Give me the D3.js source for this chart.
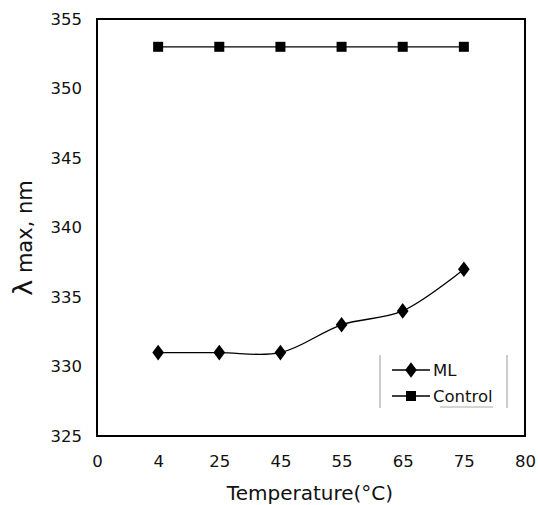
<!DOCTYPE html>
<html><head><meta charset="utf-8">
<script src="https://cdn.jsdelivr.net/npm/d3@7"></script>
<style>body{margin:0;background:#fff}svg{display:block}text{font-family:"DejaVu Sans",sans-serif;fill:#111}</style>
</head><body>
<script>
const xTickLabels = ["0","4","25","45","55","65","75","80"];
const temperatures = ["4","25","45","55","65","75"];
const mlValues = [331, 331, 331, 333, 334, 337];
const controlValues = [353, 353, 353, 353, 353, 353];
const yTicks = [325, 330, 335, 340, 345, 350, 355];

const W = 538, H = 505;
const m = {left: 97, right: 13, top: 19, bottom: 69};
const svg = d3.select("body").append("svg").attr("width", W).attr("height", H);

const x = d3.scalePoint().domain(xTickLabels).range([m.left, W - m.right]);
const y = d3.scaleLinear().domain([325, 355]).range([H - m.bottom, m.top]);

// frame
svg.append("rect").attr("x", m.left).attr("y", m.top)
  .attr("width", W - m.right - m.left).attr("height", H - m.bottom - m.top)
  .attr("fill", "none").attr("stroke", "#000").attr("stroke-width", 2);

const yAxis = svg.append("g").attr("transform", `translate(${m.left},0)`)
  .call(d3.axisLeft(y).tickValues(yTicks).tickSize(0).tickPadding(15));
yAxis.select(".domain").remove();
yAxis.selectAll("text").style("font-size", "16.5px").attr("fill", "#111");

const xAxis = svg.append("g").attr("transform", `translate(0,${H - m.bottom})`)
  .call(d3.axisBottom(x).tickSize(0).tickPadding(19));
xAxis.select(".domain").remove();
xAxis.selectAll("text").style("font-size", "16.5px").attr("fill", "#111");

svg.append("text").attr("x", 310).attr("y", 500).attr("text-anchor", "middle")
  .style("font-size", "20px").text("Temperature(°C)");
const yl = svg.append("text").attr("transform", "translate(32,238) rotate(-90)").attr("text-anchor", "middle")
  .style("font-size", "21px");
yl.append("tspan").style("font-size", "27px").text("λ");
yl.append("tspan").text(" max, nm");

// control
const lineStraight = d3.line().x((d, i) => x(temperatures[i])).y(d => y(d));
svg.append("path").datum(controlValues).attr("d", lineStraight)
  .attr("fill", "none").attr("stroke", "#000").attr("stroke-width", 1.3);
svg.selectAll(".sq").data(controlValues).join("rect")
  .attr("x", (d, i) => x(temperatures[i]) - 5).attr("y", d => y(d) - 5)
  .attr("width", 10).attr("height", 10).attr("fill", "#000");

// ML
const lineSmooth = d3.line().curve(d3.curveCatmullRom.alpha(0.5))
  .x((d, i) => x(temperatures[i])).y(d => y(d));
svg.append("path").datum(mlValues).attr("d", lineSmooth)
  .attr("fill", "none").attr("stroke", "#000").attr("stroke-width", 1.3);
const diamond = d3.symbol().type(d3.symbolDiamond).size(70);
svg.selectAll(".dm").data(mlValues).join("path")
  .attr("transform", (d, i) => `translate(${x(temperatures[i])},${y(d)}) scale(1.3,1)`)
  .attr("d", diamond).attr("fill", "#000");

// legend
const lg = svg.append("g");
lg.append("line").attr("x1", 380).attr("x2", 380).attr("y1", 355).attr("y2", 408).attr("stroke", "#999").attr("stroke-width", 1);
lg.append("line").attr("x1", 507).attr("x2", 507).attr("y1", 355).attr("y2", 408).attr("stroke", "#999").attr("stroke-width", 1);
lg.append("line").attr("x1", 440).attr("x2", 493).attr("y1", 407).attr("y2", 407).attr("stroke", "#aaa").attr("stroke-width", 1);
const items = [{name: "ML", yy: 370, sym: "d"}, {name: "Control", yy: 396, sym: "s"}];
items.forEach(it => {
  lg.append("line").attr("x1", 392).attr("x2", 430).attr("y1", it.yy).attr("y2", it.yy).attr("stroke", "#000").attr("stroke-width", 1.6);
  if (it.sym === "d") lg.append("path").attr("transform", `translate(411,${it.yy}) scale(1.3,1)`).attr("d", diamond).attr("fill", "#000");
  else lg.append("rect").attr("x", 406).attr("y", it.yy - 5).attr("width", 10).attr("height", 10).attr("fill", "#000");
  lg.append("text").attr("x", 433).attr("y", it.yy + 6).style("font-size", "16.5px").text(it.name);
});
</script>
</body></html>
